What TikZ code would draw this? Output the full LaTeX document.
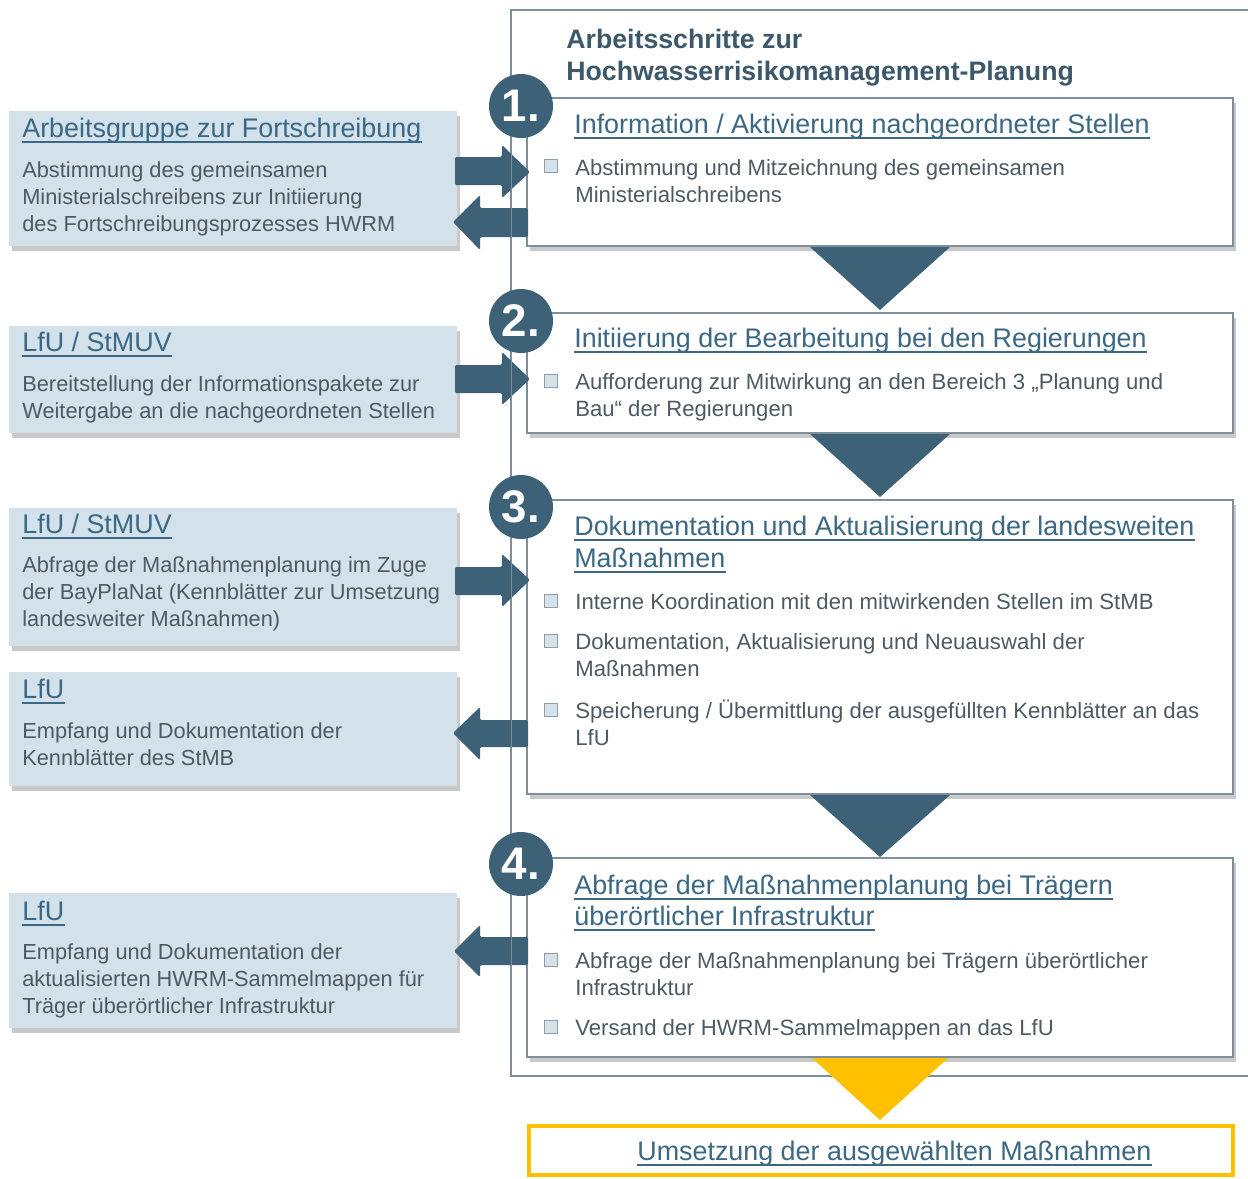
\documentclass[tikz,border=0pt]{standalone}
\usepackage{fontspec}
\setmainfont{Liberation Sans}
\usetikzlibrary{shadows,fit}
\definecolor{dteal}{HTML}{3D6278}
\definecolor{hcol}{HTML}{3B6884}
\definecolor{bcol}{HTML}{4E5A63}
\definecolor{lboxc}{HTML}{D2E1EA}
\definecolor{bord}{HTML}{7E8F9C}
\definecolor{ttl}{HTML}{3C586A}
\definecolor{yel}{HTML}{FFC000}
\definecolor{sqf}{HTML}{D5E1EB}
\definecolor{sqb}{HTML}{909DA7}
\begin{document}
\begin{tikzpicture}[x=0.02cm,y=-0.02cm,
  shad/.style={drop shadow={shadow xshift=0.06cm,shadow yshift=-0.09cm,opacity=0.35,fill=black!60}},
  lbox/.style={fit={#1},inner sep=0,fill=lboxc,draw=none,shad},
  sbox/.style={fit={#1},inner sep=0,fill=white,draw=bord,line width=0.7pt,shad},
  ul/.style={append after command={([yshift=-0.1cm]\tikzlastnode.base west) edge[draw=hcol,line width=0.7pt] ([yshift=-0.1cm]\tikzlastnode.base east)}},
  head/.style={anchor=base west,inner sep=0,text=hcol,font=\fontsize{15.3}{18.1}\selectfont,ul},
  body/.style={anchor=base west,inner sep=0,text=bcol,align=left,font=\fontsize{12.4}{15.1}\selectfont},
  sbody/.style={anchor=base west,inner sep=0,text=bcol,align=left,font=\fontsize{12.6}{15.3}\selectfont},
  ttext/.style={anchor=base west,inner sep=0,text=ttl,font=\bfseries\fontsize{15.2}{18}\selectfont},
  num/.style={circle,fill=dteal,minimum size=1.28cm,inner sep=0,text=white,font=\bfseries\fontsize{26}{26}\selectfont},
  sqr/.style={rectangle,fill=sqf,draw=sqb,line width=0.5pt,minimum size=0.27cm,inner sep=0},
  blk/.style={fill=dteal,rounded corners=0.8pt},
  tri/.style={fill=dteal},
  ytri/.style={fill=yel}
]
\useasboundingbox (0,0) rectangle (1248,1178);
\fill[white] (0,0) rectangle (1248,1178);

% outer frame (open to the right)
\draw[bord,line width=0.7pt] (1250,10) -- (511,10) -- (511,1076) -- (1250,1076);

% title
\node[ttext] (t1) at (566,48) {Arbeitsschritte zur};
\node[ttext] (t2) at (566,80) {Hochwasserrisikomanagement-Planung};

% left boxes
\node[lbox={(9,111) (457,246)}] (la) {};
\node[lbox={(9,326) (457,433)}] (lb) {};
\node[lbox={(9,508) (457,646)}] (lc) {};
\node[lbox={(9,672) (457,786)}] (ld) {};
\node[lbox={(9,893) (457,1028)}] (le) {};

% (multi-line nodes: base anchor = baseline of last line)
\node[head] (lah) at (22,137) {Arbeitsgruppe zur Fortschreibung};
\node[body] (lat) at (22,231) {Abstimmung des gemeinsamen\\Ministerialschreibens zur Initiierung\\des Fortschreibungsprozesses HWRM};
\node[head] (lbh) at (22,351) {LfU / StMUV};
\node[body] (lbt) at (22,418) {Bereitstellung der Informationspakete zur\\Weitergabe an die nachgeordneten Stellen};
\node[head] (lch) at (22,533) {LfU / StMUV};
\node[body] (lct) at (22,626) {Abfrage der Maßnahmenplanung im Zuge\\der BayPlaNat (Kennblätter zur Umsetzung\\landesweiter Maßnahmen)};
\node[head] (ldh) at (22,698) {LfU};
\node[body] (ldt) at (22,765) {Empfang und Dokumentation der\\Kennblätter des StMB};
\node[head] (leh) at (22,920) {LfU};
\node[body] (let) at (22,1013) {Empfang und Dokumentation der\\aktualisierten HWRM-Sammelmappen für\\Träger überörtlicher Infrastruktur};

% step boxes
\node[sbox={(527,98) (1233,246)}] (s1) {};
\node[sbox={(527,313) (1233,433)}] (s2) {};
\node[sbox={(527,500) (1233,794)}] (s3) {};
\node[sbox={(527,858) (1233,1057)}] (s4) {};

% arrows between left boxes and steps
\fill[blk] (455,157) -- (502,157) -- (502,145) -- (530,172) -- (502,198) -- (502,185) -- (455,185) -- cycle;
\fill[blk] (528,208) -- (480,208) -- (480,195) -- (453,222) -- (480,250) -- (480,237) -- (528,237) -- cycle;
\fill[blk] (455,365) -- (502,365) -- (502,352) -- (530,379) -- (502,405) -- (502,393) -- (455,393) -- cycle;
\fill[blk] (455,567) -- (502,567) -- (502,554) -- (530,580) -- (502,607) -- (502,595) -- (455,595) -- cycle;
\fill[blk] (528,720) -- (480,720) -- (480,707) -- (453,733) -- (480,760) -- (480,747) -- (528,747) -- cycle;
\fill[blk] (528,937) -- (480,937) -- (480,925) -- (454,951) -- (480,977) -- (480,965) -- (528,965) -- cycle;
\draw[bord,line width=0.5pt] (511,140) -- (511,255) (511,345) -- (511,410) (511,550) -- (511,615) (511,700) -- (511,765) (511,920) -- (511,985);

% down triangles
\fill[tri] (810,247) -- (950,247) -- (880,310) -- cycle;
\fill[tri] (810,434) -- (950,434) -- (880,497) -- cycle;
\fill[tri] (810,795) -- (950,795) -- (880,857) -- cycle;
\fill[ytri] (812,1058) -- (948,1058) -- (880,1120) -- cycle;

% number circles
\node[num] (n1) at (521,106) {1.};
\node[num] (n2) at (521,321) {2.};
\node[num] (n3) at (521,507) {3.};
\node[num] (n4) at (521,864) {4.};

% step 1
\node[head] (h1) at (574,133) {Information / Aktivierung nachgeordneter Stellen};
\node[sqr] (q11) at (551,166) {};
\node[sbody] (b11) at (575,202) {Abstimmung und Mitzeichnung des gemeinsamen\\Ministerialschreibens};
% step 2
\node[head] (h2) at (574,347) {Initiierung der Bearbeitung bei den Regierungen};
\node[sqr] (q21) at (551,381) {};
\node[sbody] (b21) at (575,416) {Aufforderung zur Mitwirkung an den Bereich 3 „Planung und\\Bau“ der Regierungen};
% step 3
\node[head] (h3a) at (574,535) {Dokumentation und Aktualisierung der landesweiten};
\node[head] (h3b) at (574,567) {Maßnahmen};
\node[sqr] (q31) at (551,601) {};
\node[sbody] (b31) at (575,609) {Interne Koordination mit den mitwirkenden Stellen im StMB};
\node[sqr] (q32) at (551,641) {};
\node[sbody] (b32) at (575,676) {Dokumentation, Aktualisierung und Neuauswahl der\\Maßnahmen};
\node[sqr] (q33) at (551,710) {};
\node[sbody] (b33) at (575,745) {Speicherung / Übermittlung der ausgefüllten Kennblätter an das\\LfU};
% step 4
\node[head] (h4a) at (574,894) {Abfrage der Maßnahmenplanung bei Trägern};
\node[head] (h4b) at (574,925) {überörtlicher Infrastruktur};
\node[sqr] (q41) at (551,960) {};
\node[sbody] (b41) at (575,995) {Abfrage der Maßnahmenplanung bei Trägern überörtlicher\\Infrastruktur};
\node[sqr] (q42) at (551,1027) {};
\node[sbody] (b42) at (575,1035) {Versand der HWRM-Sammelmappen an das LfU};

% final box
\node[fit={(529,1126) (1233,1175)},inner sep=0,fill=white,draw=yel,line width=1.8pt] (fin) {};
\node[head] (fint) at (637,1160) {Umsetzung der ausgewählten Maßnahmen};
\end{tikzpicture}
\end{document}
